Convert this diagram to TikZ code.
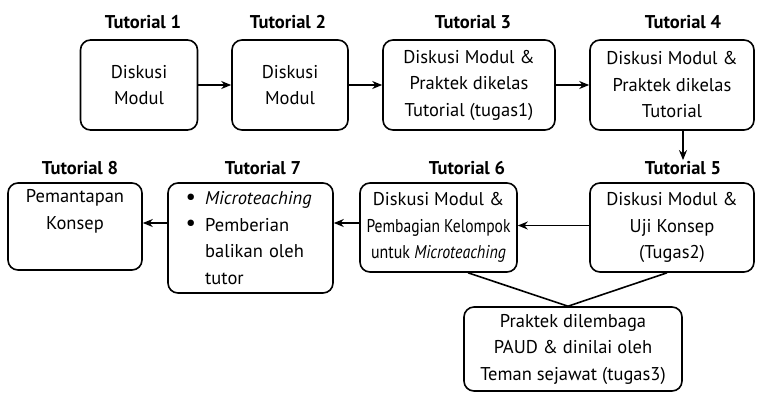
\documentclass[tikz,border=0pt]{standalone}
\usepackage{fontspec}
\usepackage{graphicx}
\setmainfont{PT Sans}
\usetikzlibrary{arrows.meta}
\tikzset{
  box/.style={draw, line width=1.6pt, rounded corners=10pt, align=center, inner sep=2pt,
    font=\fontsize{18.5}{26.5}\selectfont},
  ttl/.style={font=\fontsize{18.5}{20}\selectfont\bfseries, inner sep=1pt},
  arr/.style={line width=1.6pt, -{Stealth[length=10pt,width=8pt]}},
  ln/.style={line width=1.6pt}
}
\newcommand{\bigbul}{\raisebox{0.5pt}{\scalebox{1.25}{\textbullet}}}
\newcommand{\nobul}{\phantom{\scalebox{1.25}{\textbullet}}}
\begin{document}
\begin{tikzpicture}[x=1pt,y=-1pt]
\useasboundingbox (0,0) rectangle (757,392);
% row 1
\node[box, minimum width=117pt, minimum height=90pt] (t1) at (139,85) {Diskusi\\Modul};
\node[box, minimum width=116pt, minimum height=90pt] (t2) at (290,85) {Diskusi\\Modul};
\node[box, minimum width=172pt, minimum height=90pt] (t3) at (469,85) {Diskusi Modul \&\\Praktek dikelas\\Tutorial (tugas1)};
\node[box, minimum width=164pt, minimum height=90pt] (t4) at (672,85) {Diskusi Modul \&\\Praktek dikelas\\Tutorial};
% row 2
\node[box, minimum width=164pt, minimum height=89pt] (t5) at (672,227.5) {Diskusi Modul \&\\Uji Konsep\\(Tugas2)};
\node[box, minimum width=157pt, minimum height=89pt] (t6) at (438.5,227.5) {Diskusi Modul \&\\\scalebox{0.84}[1]{Pembagian Kelompok}\\\scalebox{0.86}[1]{untuk \textit{Microteaching}}};
\node[box, align=left, text width=130pt, inner xsep=17.5pt, minimum height=110pt] (t7) at (250.5,238)
  {\bigbul\enspace\textit{Microteaching}\\\bigbul\enspace Pemberian\\\nobul\enspace balikan oleh\\\nobul\enspace tutor};
\node[box, minimum width=134pt, minimum height=87pt] (t8) at (75,226.5) {Pemantapan\\Konsep\\\strut};
% bottom
\node[box, minimum width=218pt, minimum height=84pt] (b) at (573,349) {Praktek dilembaga\\PAUD \& dinilai oleh\\Teman sejawat (tugas3)};
% titles
\node[ttl] (l1) at (143,22) {Tutorial 1};
\node[ttl] (l2) at (288,22) {Tutorial 2};
\node[ttl] (l3) at (473,22) {Tutorial 3};
\node[ttl] (l4) at (683,22) {Tutorial 4};
\node[ttl] (l5) at (683,168) {Tutorial 5};
\node[ttl] (l6) at (467,168) {Tutorial 6};
\node[ttl] (l7) at (263,168) {Tutorial 7};
\node[ttl] (l8) at (80,168) {Tutorial 8};
% connectors
\draw[arr] (t1.east) -- (t2.west);
\draw[arr] (t2.east) -- (t3.west);
\draw[arr] (t3.east) -- (t4.west);
\draw[arr] (t4.south -| l5) -- (l5.north);
\draw[arr] ([yshift=2pt]t5.west) -- ([yshift=2pt]t5.west -| t6.east);
\draw[arr] ([yshift=4.5pt]t6.west) -- ([yshift=4.5pt]t6.west -| t7.east);
\draw[arr] ([yshift=4.5pt]t6.west -| t7.west) -- ([yshift=4.5pt]t6.west -| t8.east);
\draw[ln] ([xshift=29.5pt]t6.south) -- ([xshift=-5pt]b.north);
\draw[ln] ([xshift=-5pt]t5.south) -- ([xshift=-5pt]b.north);
\end{tikzpicture}
\end{document}
